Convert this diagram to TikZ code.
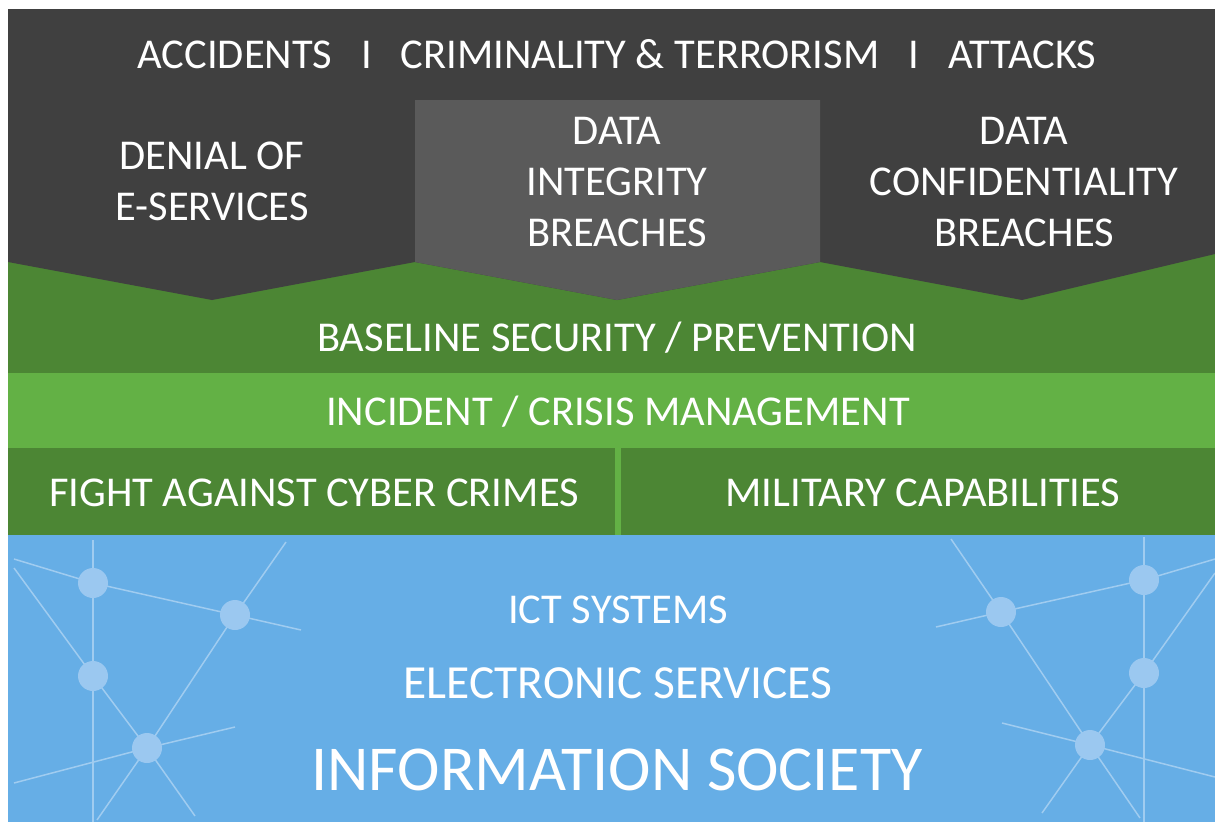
\documentclass[tikz,border=0pt]{standalone}
\usepackage{fontspec}
\setmainfont{Carlito}
\definecolor{darkgray}{RGB}{64,64,64}
\definecolor{midgray}{RGB}{90,90,90}
\definecolor{darkgreen}{RGB}{76,134,52}
\definecolor{lightgreen}{RGB}{99,177,69}
\definecolor{skyblue}{RGB}{102,174,230}
\definecolor{netline}{RGB}{160,204,240}
\definecolor{netdot}{RGB}{155,200,240}
\pgfdeclarelayer{back}
\pgfdeclarelayer{net}
\pgfsetlayers{back,net,main}
\begin{document}
\begin{tikzpicture}
		[x=1pt,y=-1pt,
		label/.style={text=white,inner sep=0pt,font=\fontsize{42.5}{51}\selectfont},
		dot/.style={circle,fill=netdot,minimum size=30pt,inner sep=0pt},
		link/.style={netline,line width=1.5pt}]
		
		\useasboundingbox (0,0) rectangle (1215,822);
		
		% bands
		\begin{pgfonlayer}{back}
		\fill[darkgreen] (8,250) rectangle (1215,373);
		\fill[darkgray] (8,9) -- (1215,9) -- (1215,254) -- (1022,300) -- (820,262)
			-- (617,300) -- (415,262) -- (212,300) -- (8,262) -- cycle;
		\fill[midgray] (415,100) -- (820,100) -- (820,262) -- (617,300) -- (415,262) -- cycle;
		\fill[lightgreen] (8,373) rectangle (1215,448);
		\fill[darkgreen] (8,448) rectangle (1215,535);
		\fill[lightgreen] (615,448) rectangle (621,535);
		\fill[skyblue] (8,535) rectangle (1215,822);
		\end{pgfonlayer}
		
		% threats
		\node[label,anchor=base] (threats) at (617,68)
			{ACCIDENTS\hspace{29pt}I\hspace{29pt}CRIMINALITY \& TERRORISM\hspace{29pt}I\hspace{29pt}ATTACKS};
		\node[label,anchor=north,align=center] (denial) at (212,142) {DENIAL OF\\E-SERVICES};
		\node[label,anchor=north,align=center] (integrity) at (617,117) {DATA\\INTEGRITY\\BREACHES};
		\node[label,anchor=north,align=center] (confid) at (1024,117) {DATA\\CONFIDENTIALITY\\BREACHES};
		
		% measures
		\node[label,anchor=base] (baseline) at (617,351) {BASELINE SECURITY / PREVENTION};
		\node[label,anchor=base] (incident) at (618,425) {INCIDENT / CRISIS MANAGEMENT};
		\node[label,anchor=base] (cyber) at (314,506) {FIGHT AGAINST CYBER CRIMES};
		\node[label,anchor=base] (military) at (923,506) {MILITARY CAPABILITIES};
		
		% society
		\node[label,anchor=base] (ict) at (618,623) {ICT SYSTEMS};
		\node[label,anchor=base,font=\fontsize{47.5}{51}\selectfont] (eserv) at (618,698) {ELECTRONIC SERVICES};
		\node[label,anchor=base,font=\fontsize{64}{70}\selectfont] (society) at (617,790) {INFORMATION SOCIETY};
		
		% network, left
		\node[dot] (a) at (93,583) {};
		\node[dot] (b) at (235,615) {};
		\node[dot] (c) at (93,676) {};
		\node[dot] (d) at (147,748) {};
		% network, right
		\node[dot] (e) at (1001,612) {};
		\node[dot] (f) at (1144,580) {};
		\node[dot] (g) at (1144,673) {};
		\node[dot] (h) at (1090,745) {};
		
		\begin{pgfonlayer}{net}
		\draw[link] (93,540) -- (a.center) -- (c.center) -- (93,822);
		\draw[link] (14,559) -- (a.center) -- (b.center) -- (301,630);
		\draw[link] (14,568) -- (c.center) -- (d.center) -- (195,816);
		\draw[link] (286,542) -- (b.center) -- (d.center) -- (97,820);
		\draw[link] (14,783) -- (d.center) -- (235,727);
		
		\draw[link] (1144,537) -- (f.center) -- (g.center) -- (1144,822);
		\draw[link] (936,627) -- (e.center) -- (f.center) -- (1215,559);
		\draw[link] (951,539) -- (e.center) -- (h.center) -- (1140,818);
		\draw[link] (1215,573) -- (g.center) -- (h.center) -- (1042,813);
		\draw[link] (1002,723) -- (h.center) -- (1215,777);
		\end{pgfonlayer}
	
	\end{tikzpicture}
\end{document}
